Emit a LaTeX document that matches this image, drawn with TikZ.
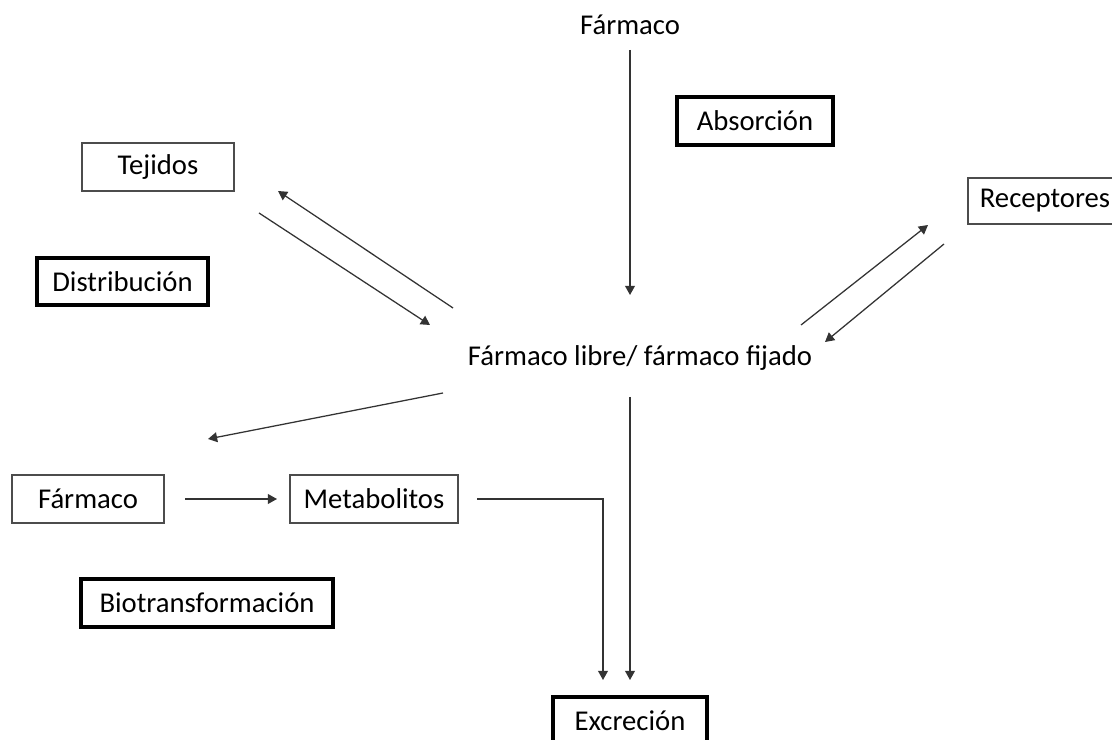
\documentclass[tikz,border=0pt]{standalone}
\usepackage{fontspec}
\setmainfont{Carlito}
\usepackage{tikz}
\usetikzlibrary{arrows.meta}

\tikzset{
  caja/.style={draw=black!70, line width=0.8pt},
  cajagruesa/.style={draw=black, line width=2.2pt},
  flecha/.style={draw=black!80, line width=0.9pt, -{Triangle[length=6.5pt,width=7pt]}},
  linea/.style={draw=black!80, line width=0.9pt}
}

\begin{document}
\begin{tikzpicture}[x=0.025cm, y=-0.025cm, font=\fontsize{20.4}{24}\selectfont]

\useasboundingbox (0,0) rectangle (1112,740);

\node (farmaco) at (630,25) {Fármaco};
\node (centro) at (640,358) {Fármaco libre/ fármaco fijado};

% boxes
\draw[cajagruesa] (677,97) rectangle (833,145) node[pos=0.5] (absorcion) {Absorción};
\draw[caja] (82,143) rectangle (234,191) node[pos=0.5] (tejidos) {Tejidos};
\draw[cajagruesa] (37,258) rectangle (208,305) node[pos=0.5] (distribucion) {Distribución};
\draw[caja] (968,178) rectangle (1122,224) node[pos=0.5] (receptores) {Receptores};
\draw[caja] (12,475) rectangle (164,523) node[pos=0.5] (farmacoizq) {Fármaco};
\draw[caja] (290,475) rectangle (458,523) node[pos=0.5] (metabolitos) {Metabolitos};
\draw[cajagruesa] (81,579) rectangle (333,627) node[pos=0.5] (biotrans) {Biotransformación};
\draw[cajagruesa] (553,697) rectangle (707,745) node[pos=0.5] (excrecion) {Excreción};

% free ends of the arrows
\coordinate (absA) at (630,50);
\coordinate (absB) at (630,295);
\coordinate (tejA) at (453,308);
\coordinate (tejB) at (278,191);
\coordinate (tejC) at (259,213);
\coordinate (tejD) at (430,325);
\coordinate (recA) at (801,325);
\coordinate (recB) at (928,225);
\coordinate (recC) at (944,244);
\coordinate (recD) at (825,342);
\coordinate (bioA) at (443,393);
\coordinate (bioB) at (208,439);
\coordinate (excA) at (630,397);
\coordinate (excB) at (630,680);
\coordinate (metA) at (185,499);
\coordinate (metB) at (277,499);
\coordinate (metC) at (477,499);
\coordinate (metD) at (603,680);

\draw[flecha] (absA) -- (absB);
\draw[flecha] (tejA) -- (tejB);
\draw[flecha] (tejC) -- (tejD);
\draw[flecha] (recA) -- (recB);
\draw[flecha] (recC) -- (recD);
\draw[flecha] (bioA) -- (bioB);
\draw[flecha] (excA) -- (excB);
\draw[flecha] (metA) -- (metB);
\draw[flecha] (metC) -| (metD);

\end{tikzpicture}
\end{document}
